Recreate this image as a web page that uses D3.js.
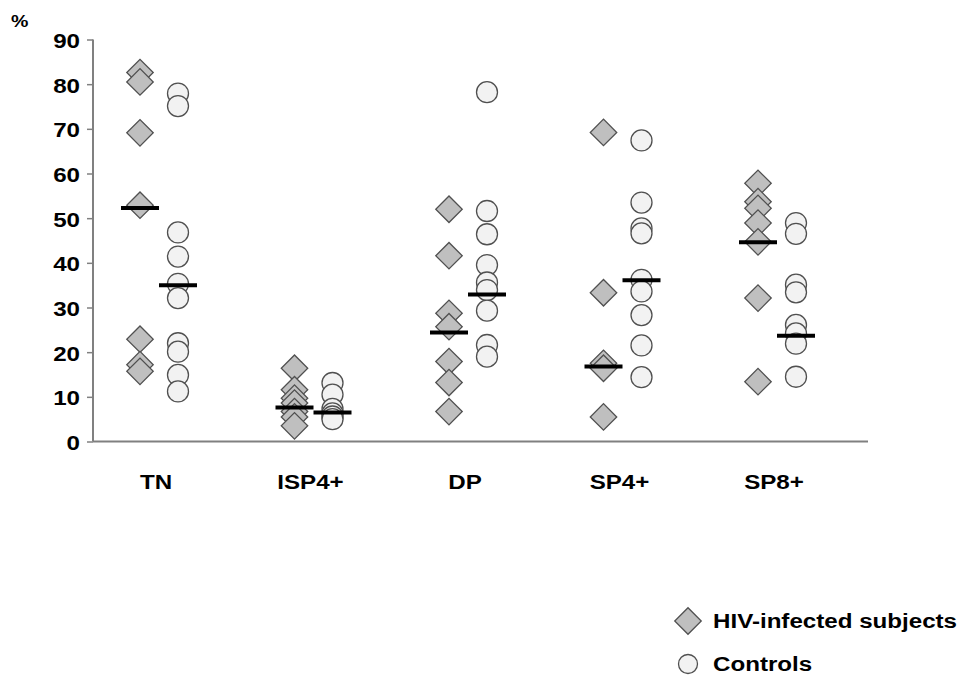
<!DOCTYPE html>
<html>
<head>
<meta charset="utf-8">
<script src="https://cdnjs.cloudflare.com/ajax/libs/d3/7.8.5/d3.min.js"></script>
<style>
  body { margin: 0; background: #fff; }
  svg text { font-family: "Liberation Sans", Arial, sans-serif; font-weight: bold; fill: #000; }
</style>
</head>
<body>
<div id="chart"></div>
<script>
// categories and values
var categories = ["TN", "ISP4+", "DP", "SP4+", "SP8+"];
var hivValues = [
  [82.6, 80.5, 69.1, 52.9, 22.9, 17.2, 15.7],
  [16.4, 11.6, 9.7, 8.6, 6.7, 5.5, 3.5],
  [52.0, 41.6, 28.7, 25.7, 17.9, 13.2, 6.7],
  [69.2, 33.3, 17.5, 16.4, 5.5],
  [57.8, 53.7, 52.2, 48.9, 44.7, 32.1, 13.4]
];
var controlValues = [
  [77.9, 75.1, 46.8, 41.4, 35.3, 32.1, 22.0, 20.1, 14.9, 11.2],
  [13.1, 10.5, 7.3, 6.3, 5.6, 5.0],
  [78.2, 51.6, 46.4, 39.5, 35.6, 33.9, 29.3, 21.6, 19.0],
  [67.4, 53.5, 47.7, 46.6, 36.2, 33.6, 28.3, 21.5, 14.4],
  [48.9, 46.5, 35.1, 33.4, 26.1, 24.2, 21.9, 14.5]
];
var hivMedians = [52.3, 7.6, 24.4, 16.8, 44.6];
var controlMedians = [35.0, 6.5, 32.9, 36.1, 23.7];
var yTicks = [0, 10, 20, 30, 40, 50, 60, 70, 80, 90];
var legendLabels = ["HIV-infected subjects", "Controls"];

var width = 972, height = 676;
var stretch = 1.15; // the figure's text is drawn a bit wide

var svg = d3.select("#chart").append("svg")
  .attr("width", width)
  .attr("height", height);

var y = d3.scaleLinear().domain([0, 90]).range([441.5, 39.5]);
var x = d3.scalePoint().domain(categories).range([159, 777]);
var off = 19;

function label(g, tx, ty, txt, size, anchor) {
  return g.append("text")
    .attr("transform", "translate(" + tx + "," + ty + ") scale(" + stretch + ",1)")
    .attr("text-anchor", anchor || "middle")
    .attr("dy", "0.35em")
    .style("font-size", size + "px")
    .text(txt);
}

// y axis
var yAxis = svg.append("g")
  .attr("transform", "translate(93,0)")
  .call(d3.axisLeft(y).tickValues(yTicks).tickSize(6).tickFormat(""));
yAxis.select(".domain").attr("stroke", "#808080").attr("stroke-width", 2)
  .attr("d", "M0," + y(90) + "V" + y(0));
yAxis.selectAll(".tick line").attr("stroke", "#808080").attr("stroke-width", 1.5);
yTicks.forEach(function(t) {
  label(svg, 80, y(t) + 1, t, 21, "end");
});
label(svg, 11, 21, "%", 17, "start");

// x axis line
svg.append("line")
  .attr("x1", 93).attr("x2", 868)
  .attr("y1", y(0)).attr("y2", y(0))
  .attr("stroke", "#808080").attr("stroke-width", 2);

categories.forEach(function(c) {
  label(svg, x(c) - 3, 482, c, 21, "middle");
});

var diamond = d3.symbol().type(d3.symbolSquare).size(350);

categories.forEach(function(c, i) {
  // HIV-infected (diamonds)
  svg.append("g").selectAll("path")
    .data(hivValues[i])
    .enter().append("path")
    .attr("d", diamond)
    .attr("transform", function(d) { return "translate(" + (x(c) - off) + "," + y(d) + ") rotate(45)"; })
    .attr("fill", "#bfbfbf")
    .attr("stroke", "#505050")
    .attr("stroke-width", 1.3);

  // controls (circles)
  svg.append("g").selectAll("circle")
    .data(controlValues[i])
    .enter().append("circle")
    .attr("cx", x(c) + off)
    .attr("cy", function(d) { return y(d); })
    .attr("r", 10.5)
    .attr("fill", "#f2f2f2")
    .attr("stroke", "#505050")
    .attr("stroke-width", 1.3);
});

// median bars
categories.forEach(function(c, i) {
  svg.append("line")
    .attr("x1", x(c) - off - 19).attr("x2", x(c) - off + 19)
    .attr("y1", y(hivMedians[i])).attr("y2", y(hivMedians[i]))
    .attr("stroke", "#000").attr("stroke-width", 4);
  svg.append("line")
    .attr("x1", x(c) + off - 19).attr("x2", x(c) + off + 19)
    .attr("y1", y(controlMedians[i])).attr("y2", y(controlMedians[i]))
    .attr("stroke", "#000").attr("stroke-width", 4);
});

// legend
var legend = svg.append("g");
legend.append("path")
  .attr("d", diamond)
  .attr("transform", "translate(688,621) rotate(45)")
  .attr("fill", "#bfbfbf").attr("stroke", "#505050").attr("stroke-width", 1.3);
legend.append("circle")
  .attr("cx", 688).attr("cy", 664).attr("r", 9.5)
  .attr("fill", "#f2f2f2").attr("stroke", "#505050").attr("stroke-width", 1.3);
label(legend, 713, 621, legendLabels[0], 21, "start");
label(legend, 713, 664, legendLabels[1], 21, "start");
</script>
</body>
</html>
